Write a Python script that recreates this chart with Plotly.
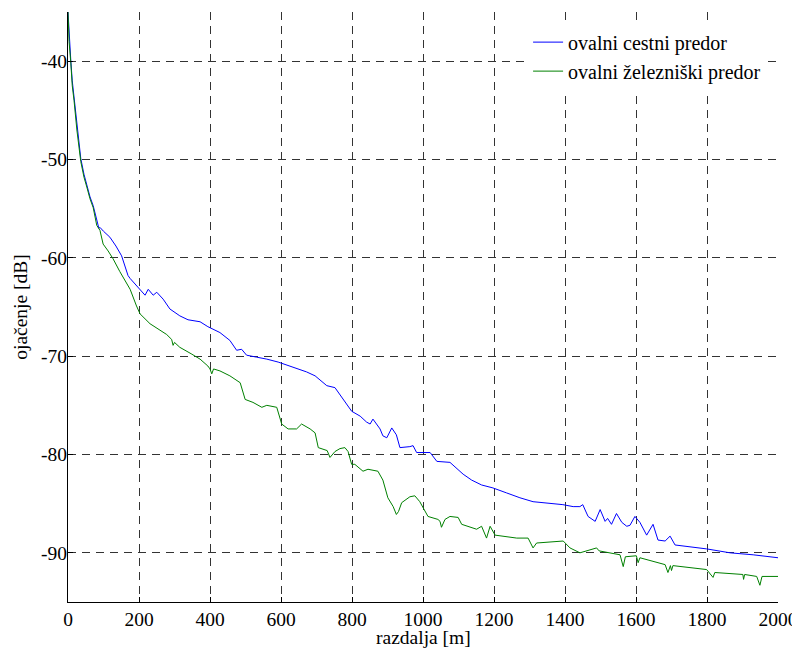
import plotly.graph_objects as go

# ---- data ----
cestni_x = [0, 3, 8, 12, 17, 25, 36, 45, 53, 62, 71, 80, 87, 90, 100, 118, 135, 151, 160, 169,
            175, 193, 203, 217, 226, 240, 250, 268, 287, 315, 338, 372, 394, 428, 456, 475, 489,
            503, 531, 560, 592, 625, 672, 696, 729, 752, 775, 799, 823, 841, 851, 859, 879, 887,
            898, 912, 925, 935, 963, 972, 982, 1020, 1039, 1076, 1113, 1137, 1165, 1197, 1235,
            1273, 1310, 1358, 1394, 1423, 1442, 1450, 1465, 1485, 1499, 1513, 1520, 1531, 1545,
            1560, 1574, 1583, 1597, 1611, 1630, 1648, 1662, 1682, 1696, 1710, 1752, 1799, 1865,
            1930, 2000]
cestni_y = [-35.0, -37.5, -40.0, -42.0, -43.8, -46.5, -49.9, -51.5, -52.6, -53.8, -54.7, -56.0,
            -57.0, -56.9, -57.3, -57.9, -58.8, -59.8, -60.9, -61.8, -62.1, -62.8, -63.2, -63.8,
            -63.2, -63.8, -63.5, -64.2, -65.2, -65.9, -66.3, -66.5, -67.0, -67.6, -68.4, -69.4,
            -69.3, -69.9, -70.1, -70.3, -70.6, -71.0, -71.6, -72.0, -73.0, -73.2, -74.4, -75.6,
            -76.1, -76.7, -76.9, -76.4, -77.4, -78.1, -78.3, -77.3, -78.0, -79.3, -79.2, -79.1,
            -79.8, -79.8, -80.7, -80.8, -82.0, -82.6, -83.1, -83.4, -83.9, -84.4, -84.8, -85.0,
            -85.1, -85.3, -85.3, -85.1, -86.3, -86.8, -85.6, -86.8, -86.5, -87.1, -86.0, -86.9,
            -87.3, -87.2, -86.3, -86.9, -88.2, -87.1, -88.7, -88.8, -88.3, -89.2, -89.4, -89.6,
            -90.0, -90.2, -90.5]

zelez_x = [0, 3, 8, 12, 17, 25, 36, 45, 53, 62, 71, 81, 90, 99, 113, 127, 146, 160, 169, 175,
           193, 203, 231, 259, 278, 292, 296, 300, 315, 349, 372, 394, 400, 405, 410, 428, 456,
           485, 499, 521, 546, 560, 588, 602, 620, 644, 658, 682, 696, 705, 730, 738, 752, 766,
           780, 789, 799, 808, 831, 845, 873, 887, 901, 916, 925, 931, 940, 963, 977, 991, 1006,
           1014, 1042, 1048, 1052, 1062, 1076, 1099, 1109, 1151, 1165, 1179, 1189, 1203, 1264,
           1296, 1310, 1320, 1395, 1414, 1442, 1489, 1496, 1555, 1564, 1570, 1601, 1606, 1611,
           1682, 1690, 1697, 1700, 1704, 1799, 1817, 1822, 1901, 1903, 1906, 1940, 1949, 1955,
           2000]
zelez_y = [-35.0, -38.0, -40.2, -42.5, -44.0, -47.0, -50.2, -51.8, -52.8, -54.0, -54.9, -56.7,
           -57.2, -58.6, -59.3, -60.1, -61.4, -62.3, -62.8, -63.2, -64.9, -65.7, -66.7, -67.4,
           -67.8, -68.3, -68.9, -68.6, -69.1, -69.8, -70.3, -71.0, -71.3, -71.8, -71.3, -71.5,
           -72.0, -72.7, -74.4, -74.7, -75.2, -75.0, -75.2, -76.9, -77.4, -77.4, -76.9, -77.4,
           -77.8, -79.3, -79.6, -80.3, -79.7, -79.4, -79.3, -79.7, -81.0, -81.0, -81.7, -81.5,
           -81.7, -82.6, -84.4, -85.3, -86.1, -85.8, -84.9, -84.3, -84.2, -84.8, -85.8, -86.3,
           -86.6, -86.8, -87.4, -86.6, -86.3, -86.4, -87.1, -87.6, -87.3, -88.5, -87.3, -88.2,
           -88.5, -88.5, -89.5, -89.0, -88.8, -89.5, -90.0, -89.5, -89.8, -90.2, -91.4, -90.4,
           -90.3, -91.0, -90.5, -91.2, -92.0, -91.3, -91.8, -91.3, -91.7, -92.5, -92.0, -92.2,
           -92.7, -92.2, -92.4, -93.3, -92.4, -92.4]

series_names = ["ovalni cestni predor", "ovalni železniški predor"]
x_ticks = [0, 200, 400, 600, 800, 1000, 1200, 1400, 1600, 1800, 2000]
x_tick_labels = [str(v) for v in x_ticks]
y_ticks = [-90, -80, -70, -60, -50, -40]
y_tick_labels = ["-90", "-80", "-70", "-60", "-50", "-40"]
x_title = "razdalja [m]"
y_title = "ojačenje [dB]"

FONT = "Liberation Serif"
FS = 19.5

fig = go.Figure()
fig.add_trace(go.Scatter(x=cestni_x, y=cestni_y, mode="lines", name=series_names[0],
                         line=dict(color="#0000ff", width=1)))
fig.add_trace(go.Scatter(x=zelez_x, y=zelez_y, mode="lines", name=series_names[1],
                         line=dict(color="#008000", width=1)))

axis_common = dict(
    showline=True, linecolor="black", linewidth=1,
    ticks="inside", ticklen=5, tickcolor="black",
    showgrid=True, gridcolor="#333333", gridwidth=1, griddash="8px,6px",
    zeroline=False, automargin=False, ticklabeloverflow="allow",
    tickfont=dict(family=FONT, size=FS, color="black"),
)

fig.update_xaxes(range=[0, 2000], tickvals=x_ticks, ticktext=x_tick_labels, **axis_common)
fig.update_yaxes(range=[-95, -35], tickvals=y_ticks, ticktext=y_tick_labels,
                 ticklabelstandoff=-4,
                 title=dict(text=y_title, font=dict(family=FONT, size=FS, color="black"), standoff=8),
                 **axis_common)

# x-axis title placed as a paper annotation so it sits just below the tick labels
fig.add_annotation(text=x_title, xref="paper", yref="paper", x=0.5, y=-0.061,
                   xanchor="center", yanchor="middle", showarrow=False,
                   font=dict(family=FONT, size=FS, color="black"))

# the page body has an 8px margin; the figure is sized/margined so that the plot area
# lands at the same screen position as in the reference
fig.update_layout(
    width=792, height=644,
    margin=dict(l=60, r=22, t=4, b=50, autoexpand=False),
    paper_bgcolor="white", plot_bgcolor="white",
    font=dict(family=FONT, size=FS, color="black"),
    showlegend=True,
    legend=dict(x=0.648, y=0.982, xanchor="left", yanchor="top",
                bgcolor="white", borderwidth=0,
                font=dict(family=FONT, size=20, color="black"),
                itemwidth=30, tracegroupgap=0),
)

fig.write_html("out.html")
